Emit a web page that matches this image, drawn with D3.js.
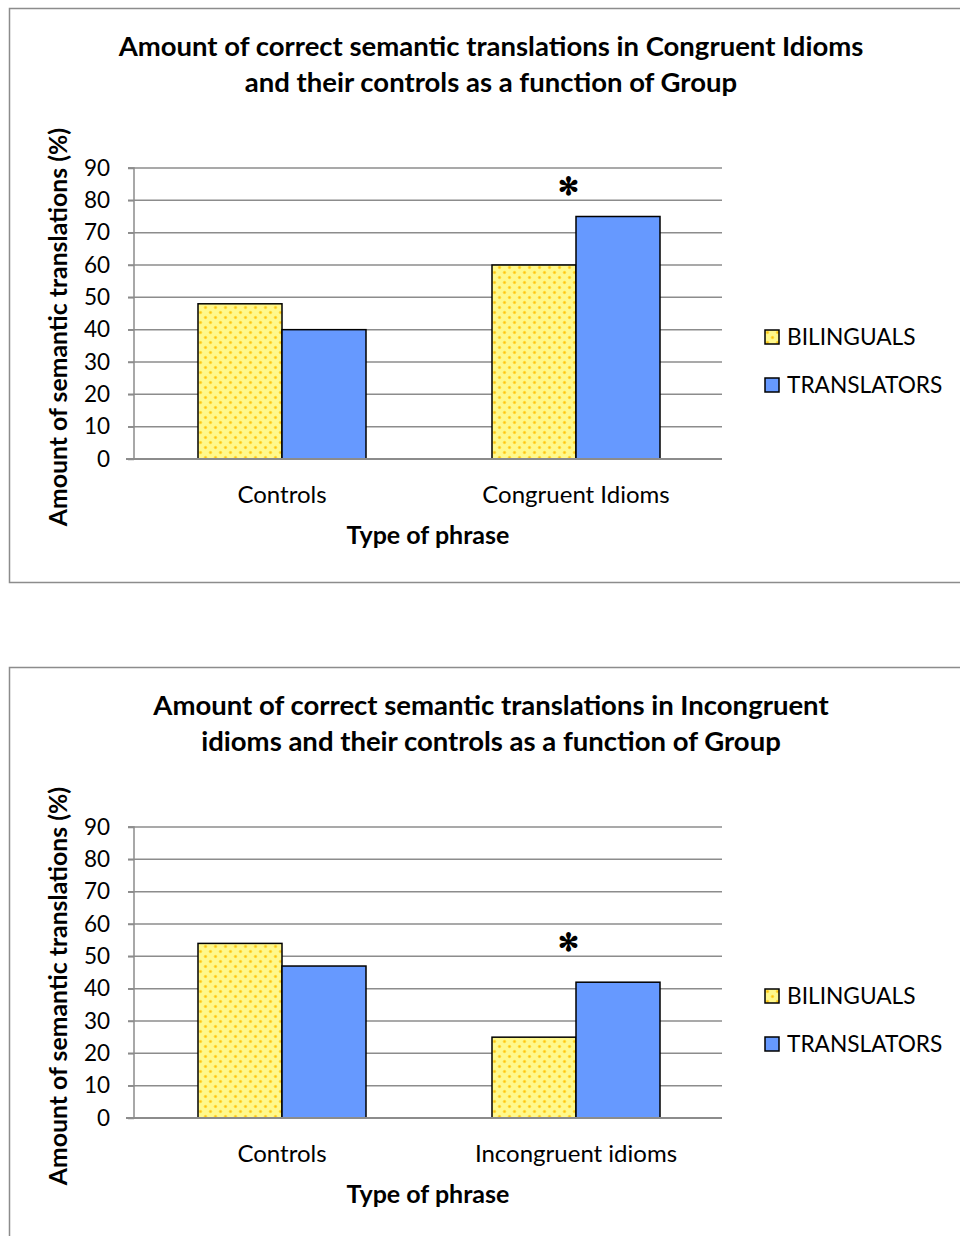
<!DOCTYPE html>
<html>
<head>
<meta charset="utf-8">
<script src="https://cdn.jsdelivr.net/npm/d3@7/dist/d3.min.js"></script>
<style>
  html, body { margin: 0; padding: 0; background: #fff; }
  svg { display: block; }
  text { font-family: Lato, "Open Sans", sans-serif; fill: #000; }
</style>
</head>
<body>
<svg id="chart" width="960" height="1236"></svg>
<script>
// ---- Data ----
const seriesNames = ["BILINGUALS", "TRANSLATORS"];
const yTicks = [0, 10, 20, 30, 40, 50, 60, 70, 80, 90];

const titles1 = ["Amount of correct semantic translations in Congruent Idioms", "and their controls as a function of Group"];
const categories1 = ["Controls", "Congruent Idioms"];
const bilinguals1 = [48, 60];
const translators1 = [40, 75];
const significant1 = [null, 84.5];   // asterisk level (value units)

const titles2 = ["Amount of correct semantic translations in Incongruent", "idioms and their controls as a function of Group"];
const categories2 = ["Controls", "Incongruent idioms"];
const bilinguals2 = [54, 25];
const translators2 = [47, 42];
const significant2 = [null, 54.5];

const yLabel = "Amount of semantic translations (%)";
const xLabel = "Type of phrase";

// ---- Drawing ----
const svg = d3.select("#chart");
const defs = svg.append("defs");
const pat = defs.append("pattern")
  .attr("id", "dots").attr("patternUnits", "userSpaceOnUse")
  .attr("width", 10).attr("height", 10);
pat.append("rect").attr("width", 10).attr("height", 10).attr("fill", "#FFF88C");
[[2.5, 2.5], [7.5, 7.5]].forEach(([cx, cy]) => {
  pat.append("circle").attr("cx", cx).attr("cy", cy).attr("r", 1.8).attr("fill", "#FFE14A");
  pat.append("circle").attr("cx", cx).attr("cy", cy).attr("r", 1.0).attr("fill", "#FFC20E");
});

const fills = ["url(#dots)", "#6699FF"];

function drawChart(offsetY, titles, categories, bil, tra, sig) {
  const g = svg.append("g").attr("transform", `translate(0,${offsetY})`);

  // outer box
  g.append("path")
    .attr("d", "M961,8.5 H9.5 V582.5 H961")
    .attr("fill", "none").attr("stroke", "#8c8c8c").attr("stroke-width", 1.5);

  // title
  g.append("text").attr("x", 491).attr("y", 56)
    .attr("text-anchor", "middle").attr("font-size", 27.5).attr("font-weight", "bold")
    .selectAll("tspan").data(titles).join("tspan")
    .attr("x", 491).attr("dy", (d, i) => i === 0 ? 0 : 35.5).text(d => d);

  const plotTop = 168, plotBottom = 459, plotLeft = 134, plotRight = 722;
  const y = d3.scaleLinear().domain([0, 90]).range([plotBottom, plotTop]);
  const x0 = d3.scaleBand().domain(categories).range([plotLeft + 1, plotRight + 1])
    .paddingInner(126 / 294).paddingOuter(63 / 294);
  const x1 = d3.scaleBand().domain(seriesNames).range([0, x0.bandwidth()]);

  // gridlines
  g.append("g").selectAll("line").data(yTicks.filter(t => t > 0)).join("line")
    .attr("x1", plotLeft - 6).attr("x2", plotRight)
    .attr("y1", d => y(d)).attr("y2", d => y(d))
    .attr("stroke", "#8c8c8c").attr("stroke-width", 1.5);

  // y axis
  const yAxis = g.append("g").attr("transform", `translate(${plotLeft},0)`)
    .call(d3.axisLeft(y).tickValues(yTicks).tickSize(6).tickPadding(18));
  yAxis.select(".domain").attr("stroke", "#8c8c8c").attr("stroke-width", 1.5)
    .attr("d", `M-6,${plotTop}H0V${plotBottom}`);
  yAxis.selectAll(".tick line").attr("stroke", "#8c8c8c").attr("stroke-width", 1.5);
  yAxis.selectAll(".tick text").attr("font-size", 22.5).attr("font-family", "Lato, sans-serif").attr("fill", "#000");

  // bars
  const data = categories.map((c, i) => ({ cat: c, vals: [bil[i], tra[i]], sig: sig[i] }));
  const groups = g.append("g").selectAll("g").data(data).join("g")
    .attr("transform", d => `translate(${x0(d.cat)},0)`);
  groups.selectAll("rect").data(d => d.vals.map((v, j) => ({ v, s: seriesNames[j], j })))
    .join("rect")
    .attr("x", d => x1(d.s)).attr("width", x1.bandwidth())
    .attr("y", d => y(d.v)).attr("height", d => y(0) - y(d.v))
    .attr("fill", d => fills[d.j]).attr("stroke", "#000").attr("stroke-width", 1.5);

  // x axis line
  g.append("line").attr("x1", plotLeft - 8).attr("x2", plotRight)
    .attr("y1", plotBottom).attr("y2", plotBottom)
    .attr("stroke", "#8c8c8c").attr("stroke-width", 2);

  // x axis labels
  const xAxis = g.append("g").attr("transform", `translate(0,${plotBottom})`)
    .call(d3.axisBottom(x0).tickSize(0).tickPadding(27));
  xAxis.select(".domain").remove();
  xAxis.selectAll(".tick text").attr("font-size", 24).attr("font-family", "Lato, sans-serif").attr("fill", "#000");

  // significance asterisks
  g.append("g").selectAll("text").data(data.filter(d => d.sig !== null)).join("text")
    .attr("x", d => x0(d.cat) + x0.bandwidth() / 2 - 8)
    .attr("y", d => y(d.sig))
    .attr("dy", "0.36em")
    .attr("text-anchor", "middle").attr("font-size", 25)
    .attr("font-family", "DejaVu Sans, sans-serif").attr("font-weight", "bold")
    .text("\u273B");

  // x label
  g.append("text").attr("x", 428).attr("y", 544).attr("text-anchor", "middle")
    .attr("font-size", 25).attr("font-weight", "bold").text(xLabel);

  // y label
  g.append("text").attr("transform", "translate(67,327) rotate(-90)")
    .attr("text-anchor", "middle").attr("font-size", 24.8).attr("font-weight", "bold").text(yLabel);

  // legend
  const leg = g.append("g").selectAll("g").data(seriesNames).join("g")
    .attr("transform", (d, i) => `translate(765,${330 + i * 48})`);
  leg.append("rect").attr("width", 14).attr("height", 14)
    .attr("fill", (d, i) => fills[i]).attr("stroke", "#000").attr("stroke-width", 1.5);
  leg.append("text").attr("x", 22).attr("y", 7).attr("dy", "0.36em")
    .attr("font-size", 22.7).text(d => d);
}

drawChart(0, titles1, categories1, bilinguals1, translators1, significant1);
drawChart(659, titles2, categories2, bilinguals2, translators2, significant2);
</script>
</body>
</html>
